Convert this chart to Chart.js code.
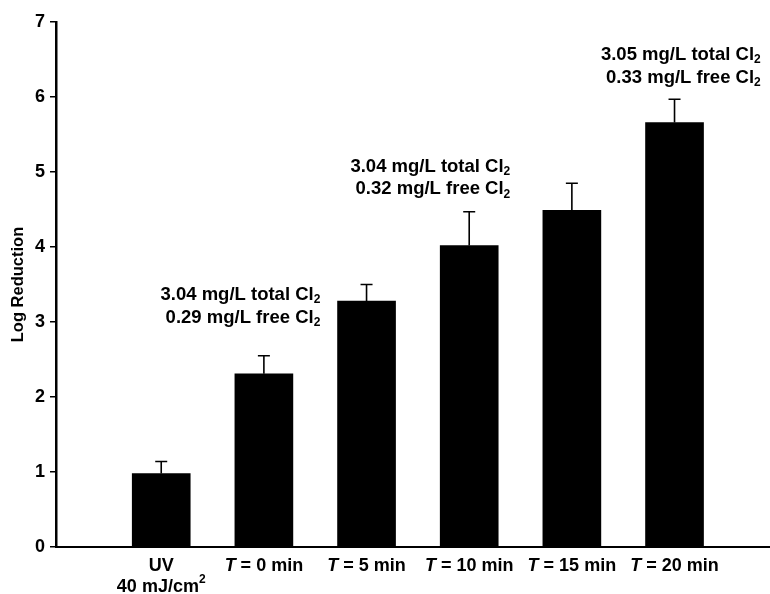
<!DOCTYPE html>
<html><head><meta charset="utf-8">
<script src="https://cdn.jsdelivr.net/npm/chart.js@4"></script>
<style>html,body{margin:0;padding:0;background:#fff}canvas{display:block}</style>
</head><body>
<canvas id="c" width="770" height="594"></canvas>
<script>
const categories = [['UV','40 mJ/cm²'],'T = 0 min','T = 5 min','T = 10 min','T = 15 min','T = 20 min'];
const logReduction = [0.98, 2.31, 3.28, 4.02, 4.49, 5.66];
const errorUpper = [0.16, 0.24, 0.22, 0.45, 0.36, 0.31];
const yTicks = [0, 1, 2, 3, 4, 5, 6, 7];
const noteTotal = ['3.04 mg/L total Cl', '3.04 mg/L total Cl', '3.05 mg/L total Cl'];
const noteFree = ['0.29 mg/L free Cl', '0.32 mg/L free Cl', '0.33 mg/L free Cl'];
const noteSub = '2';
// annotation anchors (data units): right edge x, first-line centre y
const noteAnchorX = [2.55, 4.40, 6.84];
const noteAnchorY = [3.36, 5.07, 6.56];

const FONT = '"Liberation Sans", Arial, Helvetica, sans-serif';

const errorBars = {
  id: 'errorBars',
  afterDatasetsDraw(chart) {
    const {ctx, scales: {x, y}} = chart;
    ctx.save();
    ctx.strokeStyle = '#000';
    ctx.lineWidth = 1.6;
    logReduction.forEach((v, i) => {
      const px = x.getPixelForValue(i + 1);
      const y0 = y.getPixelForValue(v);
      const y1 = y.getPixelForValue(v + errorUpper[i]);
      ctx.beginPath();
      ctx.moveTo(px, y0); ctx.lineTo(px, y1);
      ctx.moveTo(px - 6, y1); ctx.lineTo(px + 6, y1);
      ctx.stroke();
    });
    ctx.restore();
  }
};

// draws a line of text made of [text, font, dy] runs centred (or right-aligned) at a point
function drawRuns(ctx, runs, anchorX, cy, align) {
  let total = 0;
  runs.forEach(r => { ctx.font = r[1]; r.w = ctx.measureText(r[0]).width; total += r.w; });
  let x0 = align === 'right' ? anchorX - total : anchorX - total / 2;
  runs.forEach(r => { ctx.font = r[1]; ctx.fillText(r[0], x0, cy + (r[2] || 0)); x0 += r.w; });
}

const xLabels = {
  id: 'xLabels',
  afterDraw(chart) {
    const {ctx, chartArea, scales: {x}} = chart;
    const reg = 'bold 18px ' + FONT, ita = 'italic bold 18px ' + FONT, small = 'bold 12px ' + FONT;
    ctx.save();
    ctx.fillStyle = '#000';
    ctx.textBaseline = 'middle';
    ctx.textAlign = 'left';
    categories.forEach((lab, i) => {
      const cx = x.getPixelForValue(i + 1);
      const lines = Array.isArray(lab) ? lab : [lab];
      lines.forEach((ln, j) => {
        const cy = chartArea.bottom + 19 + j * 21;
        let runs;
        if (ln.startsWith('T ')) runs = [['T', ita], [ln.slice(1), reg]];
        else if (ln.endsWith('²')) runs = [[ln.slice(0, -1), reg], ['2', small, -7]];
        else runs = [[ln, reg]];
        drawRuns(ctx, runs, cx, cy, 'center');
      });
    });
    ctx.restore();
  }
};

const notes = {
  id: 'notes',
  afterDraw(chart) {
    const {ctx, scales: {x, y}} = chart;
    const reg = 'bold 18.5px ' + FONT, small = 'bold 12px ' + FONT;
    ctx.save();
    ctx.fillStyle = '#000';
    ctx.textBaseline = 'middle';
    ctx.textAlign = 'left';
    noteTotal.forEach((t, i) => {
      const right = x.getPixelForValue(noteAnchorX[i]);
      const cy = y.getPixelForValue(noteAnchorY[i]);
      drawRuns(ctx, [[t, reg], [noteSub, small, 5]], right, cy, 'right');
      drawRuns(ctx, [[noteFree[i], reg], [noteSub, small, 5]], right, cy + 22.5, 'right');
    });
    ctx.restore();
  }
};

new Chart(document.getElementById('c'), {
  type: 'bar',
  data: {
    datasets: [{
      data: logReduction.map((v, i) => ({x: i + 1, y: v})),
      backgroundColor: '#000',
      borderWidth: 0,
      barThickness: 58
    }]
  },
  options: {
    responsive: false,
    animation: false,
    devicePixelRatio: 1,
    layout: {padding: {top: 22, left: 0, right: 0, bottom: 0}},
    plugins: {legend: {display: false}, tooltip: {enabled: false}},
    scales: {
      x: {
        type: 'linear',
        offset: false,
        min: -0.025,
        max: 6.93,
        afterBuildTicks: (s) => { s.ticks = categories.map((c, i) => ({value: i + 1})); },
        afterFit: (s) => { s.height = 47; },
        ticks: {display: false},
        grid: {drawOnChartArea: false, drawTicks: false},
        border: {display: true, color: '#000', width: 2}
      },
      y: {
        min: 0,
        max: 7,
        afterBuildTicks: (s) => { s.ticks = yTicks.map(v => ({value: v})); },
        afterFit: (s) => { s.width = 56; },
        ticks: {
          font: {family: FONT, size: 18, weight: 'bold'},
          color: '#000',
          padding: 5
        },
        grid: {drawOnChartArea: false, drawTicks: true, tickLength: 6, color: '#000', lineWidth: 1.5},
        border: {display: true, color: '#000', width: 2.5},
        title: {
          display: true,
          text: 'Log Reduction',
          font: {family: FONT, size: 16.5, weight: 'bold'},
          color: '#000',
          padding: {top: 9, bottom: 0}
        }
      }
    }
  },
  plugins: [errorBars, xLabels, notes]
});
</script>
</body></html>
